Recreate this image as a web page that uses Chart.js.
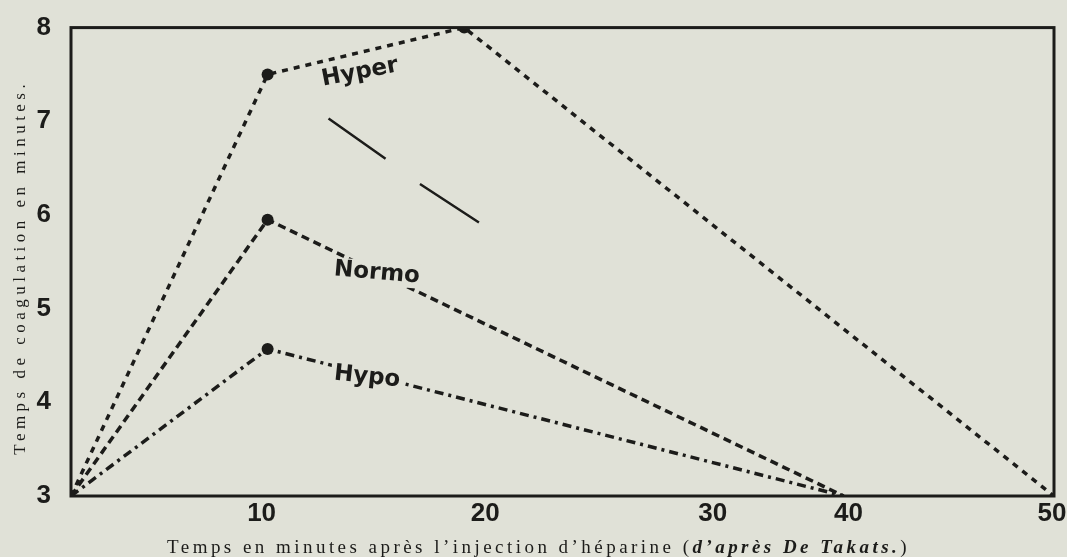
<!DOCTYPE html>
<html>
<head>
<meta charset="utf-8">
<script src="https://cdn.jsdelivr.net/npm/chart.js@4.4.1/dist/chart.umd.min.js"></script>
<style>
  html, body { margin: 0; padding: 0; background: #e0e1d7; }
  #wrap { width: 1067px; height: 557px; }
</style>
</head>
<body>
<div id="wrap"><canvas id="chart"></canvas></div>
<script>
// values (x: minutes after injection, y: coagulation time)
const xTicks = [10, 20, 30, 40, 50];
const yTicks = [3, 4, 5, 6, 7, 8];
const hyperX = [0, 10, 20, 50];
const hyperY = [3, 7.5, 8, 3];
const normoX = [0, 10, 39.3];
const normoY = [3, 5.95, 3];
const hypoX = [0, 10, 39.3];
const hypoY = [3, 4.57, 3];
// the two short solid strokes in the middle of the plate
const strokeX = [13.1, 16.0, 16.9, 17.75, 20.75];
const strokeY = [7.03, 6.6, null, 6.33, 5.92];
const curveNames = ['Hyper', 'Normo', 'Hypo'];
const yTitle = 'Temps de coagulation en minutes.';
const xTitleParts = [
    { text: 'Temps en minutes après l’injection d’héparine (', italic: false },
    { text: 'd’après De Takats.', italic: true },
    { text: ')', italic: false }
];

const INK = '#1c1c1a';
const BG = '#e0e1d7';

const pts = (xs, ys) => xs.map((x, i) => ({ x: x, y: ys[i] }));

function spacedWidth(ctx, parts, size) {
    let w = 0, n = 0;
    parts.forEach(p => {
        ctx.font = (p.italic ? 'italic bold ' : '') + size + 'px "Liberation Serif"';
        w += ctx.measureText(p.text).width;
        n += p.text.length;
    });
    return { w, n };
}

function drawFitted(ctx, parts, size, x0, y, target) {
    ctx.letterSpacing = '0px';
    const m = spacedWidth(ctx, parts, size);
    const ls = Math.max(0, (target - m.w) / m.n);
    ctx.letterSpacing = ls + 'px';
    ctx.textAlign = 'left';
    ctx.textBaseline = 'alphabetic';
    let x = x0;
    parts.forEach(p => {
        ctx.font = (p.italic ? 'italic bold ' : '') + size + 'px "Liberation Serif"';
        ctx.fillText(p.text, x, y);
        x += ctx.measureText(p.text).width;
    });
    ctx.letterSpacing = '0px';
}

const platePlugin = {
    id: 'plate',
    beforeDraw(chart) {
        const { ctx, width, height } = chart;
        ctx.save();
        ctx.fillStyle = BG;
        ctx.fillRect(0, 0, width, height);
        ctx.restore();
    },
    afterDatasetsDraw(chart, args, opts) {
        const { ctx, chartArea: a, scales } = chart;
        ctx.save();
        // frame
        ctx.strokeStyle = INK;
        ctx.lineWidth = 3;
        ctx.strokeRect(a.left, a.top, a.right - a.left, a.bottom - a.top);

        // curve labels, knocked out of the dashed lines
        opts.labels.forEach(l => {
            const px = scales.x.getPixelForValue(l.x);
            const py = scales.y.getPixelForValue(l.y);
            ctx.save();
            ctx.translate(px, py);
            ctx.rotate(l.rot * Math.PI / 180);
            ctx.font = 'bold 23px "DejaVu Sans"';
            ctx.textAlign = 'center';
            ctx.textBaseline = 'middle';
            const w = ctx.measureText(l.text).width;
            if (l.knock) {
                ctx.fillStyle = BG;
                ctx.fillRect(-w / 2 - 3, -12, w + 6, 24);
            }
            ctx.fillStyle = INK;
            ctx.fillText(l.text, 0, 0);
            ctx.restore();
        });

        // x tick labels (the plate sets them a little off their values)
        ctx.font = 'bold 26px "Liberation Sans"';
        ctx.fillStyle = INK;
        ctx.textAlign = 'center';
        ctx.textBaseline = 'middle';
        xTicks.forEach((v, i) => {
            ctx.fillText(String(v), scales.x.getPixelForValue(v) + opts.tickShift[i], a.bottom + 18);
        });

        // axis titles
        ctx.fillStyle = INK;
        drawFitted(ctx, xTitleParts, 19, 167, 553, 743);
        ctx.save();
        ctx.translate(25, (a.top + a.bottom) / 2 + 6);
        ctx.rotate(-Math.PI / 2);
        drawFitted(ctx, [{ text: yTitle, italic: false }], 17, -187, 0, 375);
        ctx.restore();
        ctx.restore();
    }
};

const ctx = document.getElementById('chart').getContext('2d');
new Chart(ctx, {
    type: 'line',
    data: {
        datasets: [
            {
                label: curveNames[0],
                data: pts(hyperX, hyperY),
                borderColor: INK,
                borderWidth: 3.5,
                borderDash: [6, 6],
                pointRadius: [0, 6, 6, 0],
                pointBackgroundColor: INK,
                pointBorderWidth: 0
            },
            {
                label: curveNames[1],
                data: pts(normoX, normoY),
                borderColor: INK,
                borderWidth: 3.5,
                borderDash: [8, 5],
                pointRadius: [0, 6, 0],
                pointBackgroundColor: INK,
                pointBorderWidth: 0
            },
            {
                label: curveNames[2],
                data: pts(hypoX, hypoY),
                borderColor: INK,
                borderWidth: 3.5,
                borderDash: [9, 5, 3, 5],
                pointRadius: [0, 6, 0],
                pointBackgroundColor: INK,
                pointBorderWidth: 0
            },
            {
                label: 'traits',
                data: pts(strokeX, strokeY),
                borderColor: INK,
                borderWidth: 2.5,
                pointRadius: 0,
                spanGaps: false
            }
        ]
    },
    options: {
        responsive: true,
        maintainAspectRatio: false,
        animation: false,
        layout: { padding: { top: 27, right: 13, left: 0, bottom: 0 } },
        plugins: {
            legend: { display: false },
            tooltip: { enabled: false },
            plate: {
                tickShift: [-6, 21, 52, -9, -2],
                labels: [
                    { text: curveNames[0], x: 14.7, y: 7.52, rot: -11, knock: false },
                    { text: curveNames[1], x: 15.56, y: 5.38, rot: 5, knock: true },
                    { text: curveNames[2], x: 15.06, y: 4.27, rot: 6, knock: true }
                ]
            }
        },
        scales: {
            x: {
                type: 'linear',
                min: 0,
                max: 50,
                grid: { display: false },
                border: { display: false },
                ticks: { display: false },
                afterFit: s => { s.height = 61; }
            },
            y: {
                min: 3,
                max: 8,
                afterBuildTicks: s => { s.ticks = yTicks.map(v => ({ value: v })); },
                grid: { display: false },
                border: { display: false },
                ticks: {
                    color: INK,
                    padding: 12,
                    font: { family: 'Liberation Sans', weight: 'bold', size: 26 }
                },
                afterFit: s => { s.width = 71; }
            }
        }
    },
    plugins: [platePlugin]
});
</script>
</body>
</html>
